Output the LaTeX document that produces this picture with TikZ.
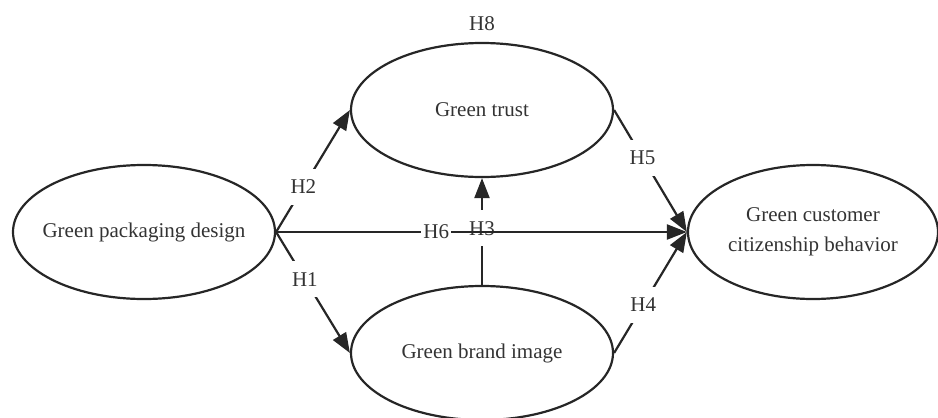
\documentclass[tikz,border=0pt]{standalone}
\usepackage{fontspec}
\setmainfont{Liberation Serif}
\usetikzlibrary{shapes.geometric,arrows.meta}

\begin{document}
\begin{tikzpicture}[x=0.5pt,y=-0.5pt]
  \tikzset{ConstructStyle/.style = {shape          = ellipse,
                                    draw           = black!85,
                                    line width     = 1.1pt,
                                    text           = black!80,
                                    align          = center,
                                    inner sep      = 0pt,
                                    minimum width  = 131pt,
                                    minimum height = 67pt,
                                    font           = \fontsize{10.5pt}{15pt}\selectfont}}
  \tikzset{PathStyle/.style      = {draw           = black!85,
                                    line width     = 1.1pt,
                                    -{Triangle[length=10pt,width=7.5pt]}}}
  \tikzset{HypoStyle/.style      = {fill           = white,
                                    text           = black!80,
                                    inner xsep     = 1pt,
                                    inner ysep     = 5.5pt,
                                    font           = \fontsize{10.5pt}{12pt}\selectfont}}

\useasboundingbox (0,0) rectangle (938,418);

% long text would widen the ellipse, so it gets no width of its own
\node[ConstructStyle] (design) at (144,232) {\makebox[0pt]{Green packaging design}};
\node[ConstructStyle] (trust)  at (482,110) {Green trust};
\node[ConstructStyle] (image)  at (482,353) {Green brand image};
\node[ConstructStyle, minimum width=125pt] (behavior) at (813,232)
      {Green customer\\citizenship behavior};

\node[HypoStyle, fill=none] (h8) at (482,24) {H8};

\draw[PathStyle] (design.east) -- node[HypoStyle, pos=0.37] (h2) {H2} (trust.west);
\draw[PathStyle] (design.east) -- node[HypoStyle, pos=0.39] (h1) {H1} (image.west);
\draw[PathStyle] (image.north) -- node[HypoStyle, pos=0.53] (h3) {H3} (trust.south);
\draw[PathStyle] (design.east) -- node[HypoStyle, pos=0.39] (h6) {H6} (behavior.west);
\draw[PathStyle] (trust.east)  -- node[HypoStyle, pos=0.39] (h5) {H5} (behavior.west);
\draw[PathStyle] (image.east)  -- node[HypoStyle, pos=0.40] (h4) {H4} (behavior.west);

\end{tikzpicture}
\end{document}
